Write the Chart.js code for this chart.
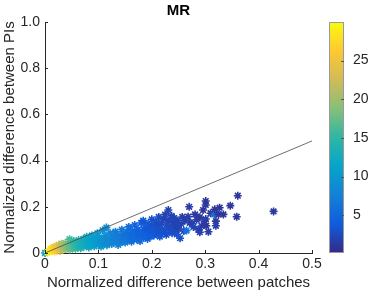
<!DOCTYPE html>
<html><head><meta charset="utf-8">
<script src="https://cdn.jsdelivr.net/npm/chart.js@4.4.0/dist/chart.umd.min.js"></script>
<style>html,body{margin:0;padding:0;background:#fff;}canvas{display:block;}</style>
</head><body>
<canvas id="c" width="390" height="293" style="width:390px;height:293px"></canvas>
<script>
const titleText = 'MR';
const xLabel = 'Normalized difference between patches';
const yLabel = 'Normalized difference between PIs';
const colorTicks = [5, 10, 15, 20, 25];
const cMin = 0.1, cMax = 30;
const lineX = [0, 0.5];
const lineY = [0, 0.485];

const xVals = [
 0,0.005,0.008,0.01,0.011,0.013,0.014,0.016,0.017,0.018,0.02,0.021,0.022,0.024,0.025,0.026,0.028,0.028,0.03,0.031,
 0.033,0.034,0.036,0.038,0.039,0.041,0.042,0.044,0.045,0.046,0.047,0.049,0.05,0.051,0.053,0.054,0.056,0.057,0.058,0.06,0.061,
 0.063,0.064,0.066,0.067,0.069,0.07,0.072,0.073,0.075,0.077,0.078,0.08,0.081,0.082,0.084,0.086,0.087,0.088,0.09,0.092,0.093,0.095,0.096,0.098,0.1,0.1,
 0.102,0.104,0.105,0.107,0.108,0.11,0.112,0.113,0.115,0.116,0.118,0.12,0.122,0.124,0.125,0.127,0.128,0.13,0.132,0.134,0.137,0.137,0.139,0.14,0.142,0.144,0.145,0.147,0.148,0.15,
 0.152,0.154,0.155,0.157,0.158,0.16,0.162,0.163,0.165,0.167,0.168,0.17,0.172,0.174,0.175,0.177,0.178,0.18,0.182,0.184,0.185,0.187,0.188,0.19,0.192,0.193,0.195,0.197,0.198,0.2,0.2,
 0.202,0.204,0.205,0.207,0.208,0.21,0.212,0.213,0.215,0.217,0.218,0.22,0.222,0.224,0.225,0.227,0.228,0.231,0.232,0.233,0.235,0.237,0.238,0.24,0.242,0.244,0.245,0.247,0.248,0.25,
 0.253,0.255,0.257,0.26,0.262,0.265,0.268,0.27,0.271,0.275,0.278,0.281,0.284,0.287,0.29,0.29,0.293,0.296,0.299,
 0.301,0.301,0.301,0.302,0.306,0.31,0.317,0.318,0.32,0.32,0.325,0.327,0.334,0.347,0.359,0.361,0.428
];
const yVals = [
 0,0.003,0.007,0.012,0.018,0.009,0.022,0.014,0.026,0.006,0.019,0.03,0.011,0.024,0.016,0.036,0.009,0.029,0.021,0.04,
 0.014,0.032,0.024,0.043,0.017,0.031,0.022,0.039,0.027,0.06,0.015,0.046,0.033,0.022,0.041,0.052,0.028,0.018,0.036,0.046,0.025,
 0.056,0.031,0.04,0.021,0.049,0.035,0.061,0.028,0.045,0.038,0.07,0.032,0.052,0.024,0.043,0.059,0.035,0.076,0.048,0.029,0.063,0.041,0.055,0.085,0.035,0.051,
 0.068,0.045,0.028,0.058,0.098,0.04,0.052,0.075,0.11,0.034,0.063,0.047,0.086,0.056,0.039,0.07,0.046,0.061,0.092,0.051,0.035,0.076,0.058,0.043,0.068,0.101,0.052,0.081,0.061,0.045,
 0.071,0.091,0.056,0.113,0.066,0.08,0.049,0.096,0.061,0.075,0.121,0.088,0.058,0.102,0.07,0.083,0.052,0.13,0.093,0.14,0.066,0.111,0.078,0.099,0.061,0.126,0.086,0.106,0.071,0.146,0.091,
 0.116,0.076,0.101,0.136,0.083,0.121,0.096,0.156,0.071,0.109,0.131,0.089,0.146,0.101,0.166,0.079,0.121,0.186,0.141,0.096,0.111,0.161,0.086,0.131,0.151,0.101,0.119,0.081,0.141,0.106,
 0.064,0.126,0.156,0.095,0.141,0.097,0.157,0.2,0.131,0.128,0.113,0.167,0.144,0.101,0.155,0.09,0.117,0.186,0.138,
 0.225,0.208,0.147,0.118,0.092,0.172,0.167,0.189,0.138,0.118,0.167,0.196,0.167,0.205,0.157,0.248,0.18
];
const cVals = [
 10,29.5,29,29,28.5,28.5,27.5,28,26.5,27,26.5,25,26,25,25,23,24,23,22.5,21,
 21.5,20.5,20,19,19.5,19,18.5,18,17.5,16,17.5,16.5,16.5,16.5,16,15,15.5,15.5,15,14.5,14.5,
 14,14,13.5,13.5,13,13,12.5,13,12.5,12.5,12,12,11.5,12,11.5,11,11.5,11,11,11,10.5,10.5,10.5,10,10,10,
 10,9.5,10,9.5,9,9.5,9,9,8.5,9,8.5,8.5,8,8.5,8.5,8,8,7.5,7,7.5,8,7,7.5,7.5,7,6.5,7,6.5,6.5,7,
 6,6,6.5,5.5,6,5.5,6,5.5,5.5,5.5,4.5,5,5.5,4.5,5,4.5,5.5,4,4.5,3.5,4.5,4,4.5,3.5,4.5,3.5,4,3.5,4,3,3.5,
 3,4,3.5,3,3.5,2.5,3,2.5,3.5,3,2.5,3,2,3,2,3,2.5,2,2,3,2.5,2,3,2,2,2.5,2,3,2,2,
 3,2,1.5,2,1.5,6,1.5,1.5,1.5,1.5,2,1,1.5,2,1,1.5,1.5,1,1,
 1,1,1.5,1,1.5,1,6,1,1,1.5,1,1,1,1,1,1,1
];

const parula = [[53,42,135],[15,92,221],[20,129,214],[6,164,202],[46,183,164],[135,191,119],[209,187,89],[254,200,50],[249,251,14]];
function cmapT(t){
  t = Math.max(0, Math.min(1, t));
  const s = t * (parula.length - 1);
  const i = Math.min(parula.length - 2, Math.floor(s));
  const f = s - i, a = parula[i], b = parula[i + 1];
  return 'rgb(' + [0,1,2].map(k => Math.round(a[k] + (b[k] - a[k]) * f)).join(',') + ')';
}
function cmap(v){ return cmapT((v - cMin) / (cMax - cMin)); }

const pts = xVals.map((x, i) => ({x: x, y: yVals[i]}));
const ptColors = cVals.map(cmap);
const lineData = lineX.map((x, i) => ({x: x, y: lineY[i]}));

const axisColor = '#262626';
const fontFamily = "'Liberation Sans', Arial, Helvetica, sans-serif";
Chart.defaults.font.family = fontFamily;
Chart.defaults.color = axisColor;

const extras = {
  id: 'extras',
  afterDraw(chart){
    const ctx = chart.ctx, xs = chart.scales.x, ys = chart.scales.y, cb = chart.scales.cb, ca = chart.chartArea;
    ctx.save();
    ctx.fillStyle = '#000';
    ctx.font = 'bold 15px ' + fontFamily;
    ctx.textAlign = 'center'; ctx.textBaseline = 'middle';
    ctx.fillText(titleText, (ca.left + ca.right) / 2, 11);
    ctx.strokeStyle = axisColor; ctx.lineWidth = 1;
    xs.ticks.forEach(t => {
      const px = Math.round(xs.getPixelForValue(t.value)) + 0.5;
      ctx.beginPath(); ctx.moveTo(px, ca.bottom); ctx.lineTo(px, ca.bottom - 3); ctx.stroke();
    });
    ys.ticks.forEach(t => {
      const py = Math.round(ys.getPixelForValue(t.value)) + 0.5;
      ctx.beginPath(); ctx.moveTo(ca.left, py); ctx.lineTo(ca.left + 3, py); ctx.stroke();
    });
    const top = cb.getPixelForValue(cMax), bot = cb.getPixelForValue(cMin);
    const x0 = cb.left + 17, w = 15;
    const g = ctx.createLinearGradient(0, bot, 0, top);
    parula.forEach((c, i) => g.addColorStop(i / (parula.length - 1), 'rgb(' + c.join(',') + ')'));
    ctx.fillStyle = g;
    ctx.fillRect(x0, top, w, bot - top);
    ctx.strokeStyle = '#9a9a9a'; ctx.lineWidth = 1;
    ctx.strokeRect(x0 + 0.5, top + 0.5, w - 1, bot - top - 1);
    ctx.strokeStyle = '#555';
    cb.ticks.forEach(t => {
      const py = Math.round(cb.getPixelForValue(t.value)) + 0.5;
      ctx.beginPath(); ctx.moveTo(x0 + w, py); ctx.lineTo(x0 + w - 3, py); ctx.stroke();
    });
    ctx.restore();
  }
};

new Chart(document.getElementById('c'), {
  type: 'scatter',
  data: {
    datasets: [
      { type: 'line', data: lineData, showLine: true, borderColor: '#4a4a4a', borderWidth: 0.8, pointRadius: 0, fill: false },
      { data: pts, pointStyle: 'star', pointRadius: 4, borderWidth: 1.6,
        pointBorderColor: ptColors, pointBackgroundColor: ptColors, clip: false }
    ]
  },
  options: {
    responsive: false, animation: false,
    layout: { padding: 0 },
    plugins: {
      legend: { display: false }, tooltip: { enabled: false },
      title: { display: true, text: ' ', fullSize: true,
        font: { size: 15, weight: 'bold' }, padding: { top: 2, bottom: 2 } }
    },
    scales: {
      x: { type: 'linear', min: 0, max: 0.5,
        ticks: { stepSize: 0.1, font: { size: 14 }, padding: 3, maxRotation: 0 },
        grid: { display: false, drawTicks: false },
        border: { display: true, color: axisColor, width: 1 },
        title: { display: true, text: xLabel, font: { size: 15 }, padding: { top: 0, bottom: 1 } },
        afterFit: s => { s.height = 40; } },
      y: { type: 'linear', min: 0, max: 1,
        ticks: { stepSize: 0.2, font: { size: 14 }, padding: 5 },
        grid: { display: false, drawTicks: false },
        border: { display: true, color: axisColor, width: 1 },
        title: { display: true, text: yLabel, font: { size: 15 }, padding: { top: 1, bottom: 0 } },
        afterFit: s => { s.width = 45; } },
      cb: { type: 'linear', position: 'right', min: cMin, max: cMax,
        afterBuildTicks: s => { s.ticks = colorTicks.map(v => ({ value: v })); },
        ticks: { font: { size: 14 }, padding: 1 },
        grid: { display: false, drawTicks: true, tickLength: 40 },
        border: { display: false },
        afterFit: s => { s.width = 78; } }
    }
  },
  plugins: [extras]
});
</script>
</body></html>
